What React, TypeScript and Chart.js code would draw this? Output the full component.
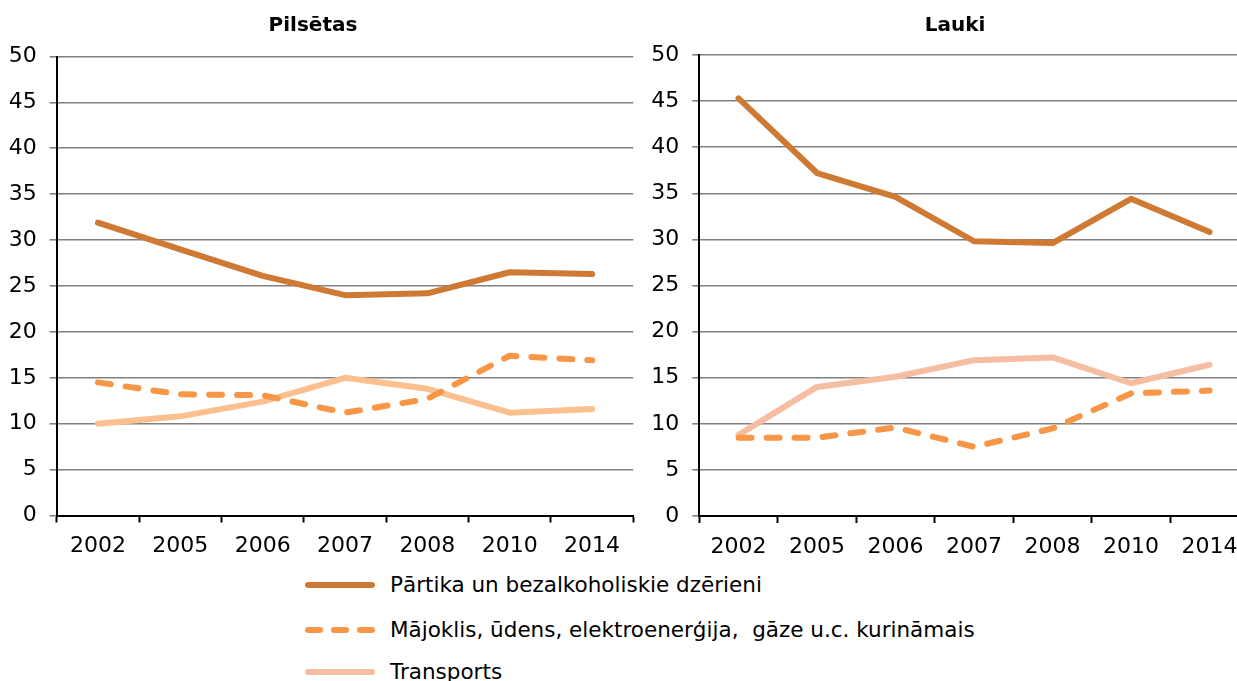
import React, { useEffect, useRef } from "react";
import { Chart, registerables } from "chart.js";

Chart.register(...registerables);

const years = ["2002", "2005", "2006", "2007", "2008", "2010", "2014"];
const seriesNames = [
  "Pārtika un bezalkoholiskie dzērieni",
  "Mājoklis, ūdens, elektroenerģija,  gāze u.c. kurināmais",
  "Transports",
];
const panelTitles = ["Pilsētas", "Lauki"];

const cityFood = [31.9, 29.0, 26.1, 24.0, 24.2, 26.5, 26.3];
const cityHousing = [14.5, 13.2, 13.1, 11.2, 12.7, 17.4, 16.9];
const cityTransport = [10.0, 10.8, 12.4, 15.0, 13.8, 11.2, 11.6];

const ruralFood = [45.3, 37.2, 34.6, 29.8, 29.6, 34.4, 30.8];
const ruralHousing = [8.5, 8.5, 9.6, 7.5, 9.5, 13.3, 13.6];
const ruralTransport = [8.8, 14.0, 15.1, 16.9, 17.2, 14.4, 16.4];

const yMin = 0;
const yMax = 50;
const yStep = 5;

const FOOD_COLOR = "#CF7A34";
const HOUSING_COLOR = "#F79646";
const CITY_TRANSPORT_COLOR = "#FBC08E";
const RURAL_TRANSPORT_COLOR = "#F5BEA2";
const FONT = "'DejaVu Sans', Verdana, sans-serif";

type PanelProps = {
  left: number;
  width: number;
  height: number;
  padTop: number;
  padRight: number;
  yAxisWidth: number;
  xAxisHeight: number;
  food: number[];
  housing: number[];
  transport: number[];
  transportColor: string;
};

function Panel(p: PanelProps) {
  const ref = useRef<HTMLCanvasElement | null>(null);
  useEffect(() => {
    if (!ref.current) return;
    const common = {
      fill: false,
      tension: 0,
      pointRadius: 0,
      pointHoverRadius: 0,
      borderWidth: 6,
      borderCapStyle: "round" as const,
      borderJoinStyle: "round" as const,
    };
    const chart = new Chart(ref.current, {
      type: "line",
      data: {
        labels: years,
        datasets: [
          { ...common, label: seriesNames[0], data: p.food, borderColor: FOOD_COLOR, backgroundColor: FOOD_COLOR },
          { ...common, label: seriesNames[1], data: p.housing, borderColor: HOUSING_COLOR, backgroundColor: HOUSING_COLOR, borderDash: [13, 15], borderCapStyle: "round" as const },
          { ...common, label: seriesNames[2], data: p.transport, borderColor: p.transportColor, backgroundColor: p.transportColor },
        ],
      },
      options: {
        animation: false,
        responsive: false,
        maintainAspectRatio: false,
        layout: { padding: { top: p.padTop, right: p.padRight, left: 0, bottom: 0 } },
        plugins: { legend: { display: false }, title: { display: false }, tooltip: { enabled: false } },
        scales: {
          x: {
            offset: true,
            grid: {
              offset: true,
              drawOnChartArea: false,
              drawTicks: true,
              tickLength: 7,
              tickColor: "#000",
              tickWidth: 2,
            },
            border: { display: true, color: "#000", width: 2 },
            ticks: { color: "#000", font: { family: FONT, size: 22 }, padding: 11, maxRotation: 0, autoSkip: false },
            afterFit: (s: any) => { s.height = p.xAxisHeight; },
          },
          y: {
            min: yMin,
            max: yMax,
            grid: { color: "#808080", lineWidth: 1.6, tickLength: 7, tickColor: "#808080" },
            border: { display: true, color: "#000", width: 2 },
            ticks: { stepSize: yStep, color: "#000", font: { family: FONT, size: 22 }, padding: 13 },
            afterFit: (s: any) => { s.width = p.yAxisWidth; },
          },
        },
      },
    });
    return () => chart.destroy();
  }, []);
  return (
    <canvas
      ref={ref}
      width={p.width}
      height={p.height}
      style={{ position: "absolute", left: p.left, top: 0, width: p.width, height: p.height }}
    />
  );
}

function LegendSample({ kind, color }: { kind: "solid" | "dash"; color: string }) {
  if (kind === "solid") {
    return <div style={{ position: "absolute", left: 0, top: -3, width: 70, height: 6, borderRadius: 3, background: color }} />;
  }
  return (
    <>
      {[0, 1, 2].map((i) => (
        <div key={i} style={{ position: "absolute", left: i * 26, top: -3, width: 18, height: 6, borderRadius: 3, background: color }} />
      ))}
    </>
  );
}

export default function App() {
  const legendRows = [
    { name: seriesNames[0], kind: "solid" as const, color: FOOD_COLOR, y: 585 },
    { name: seriesNames[1], kind: "dash" as const, color: HOUSING_COLOR, y: 630 },
    { name: seriesNames[2], kind: "solid" as const, color: RURAL_TRANSPORT_COLOR, y: 672 },
  ];
  return (
    <div style={{ position: "absolute", left: 0, top: 0, width: 1237, height: 681, overflow: "hidden", background: "#fff", fontFamily: FONT }}>
      <Panel left={0} width={640} height={566} padTop={56.5} padRight={6.7} yAxisWidth={56.7} xAxisHeight={50.5}
        food={cityFood} housing={cityHousing} transport={cityTransport} transportColor={CITY_TRANSPORT_COLOR} />
      <Panel left={640} width={612} height={566} padTop={55} padRight={3.2} yAxisWidth={59.3} xAxisHeight={50}
        food={ruralFood} housing={ruralHousing} transport={ruralTransport} transportColor={RURAL_TRANSPORT_COLOR} />
      <div style={{ position: "absolute", left: 313, top: 12, transform: "translateX(-50%)", fontWeight: "bold", fontSize: 20, lineHeight: "24px", color: "#000", whiteSpace: "nowrap" }}>{panelTitles[0]}</div>
      <div style={{ position: "absolute", left: 955, top: 12, transform: "translateX(-50%)", fontWeight: "bold", fontSize: 20, lineHeight: "24px", color: "#000", whiteSpace: "nowrap" }}>{panelTitles[1]}</div>
      {legendRows.map((r) => (
        <div key={r.name} style={{ position: "absolute", left: 305, top: r.y, width: 900 }}>
          <LegendSample kind={r.kind} color={r.color} />
          <div style={{ position: "absolute", left: 85, top: -13, fontSize: 21.5, lineHeight: "26px", color: "#000", whiteSpace: "pre" }}>{r.name}</div>
        </div>
      ))}
    </div>
  );
}
